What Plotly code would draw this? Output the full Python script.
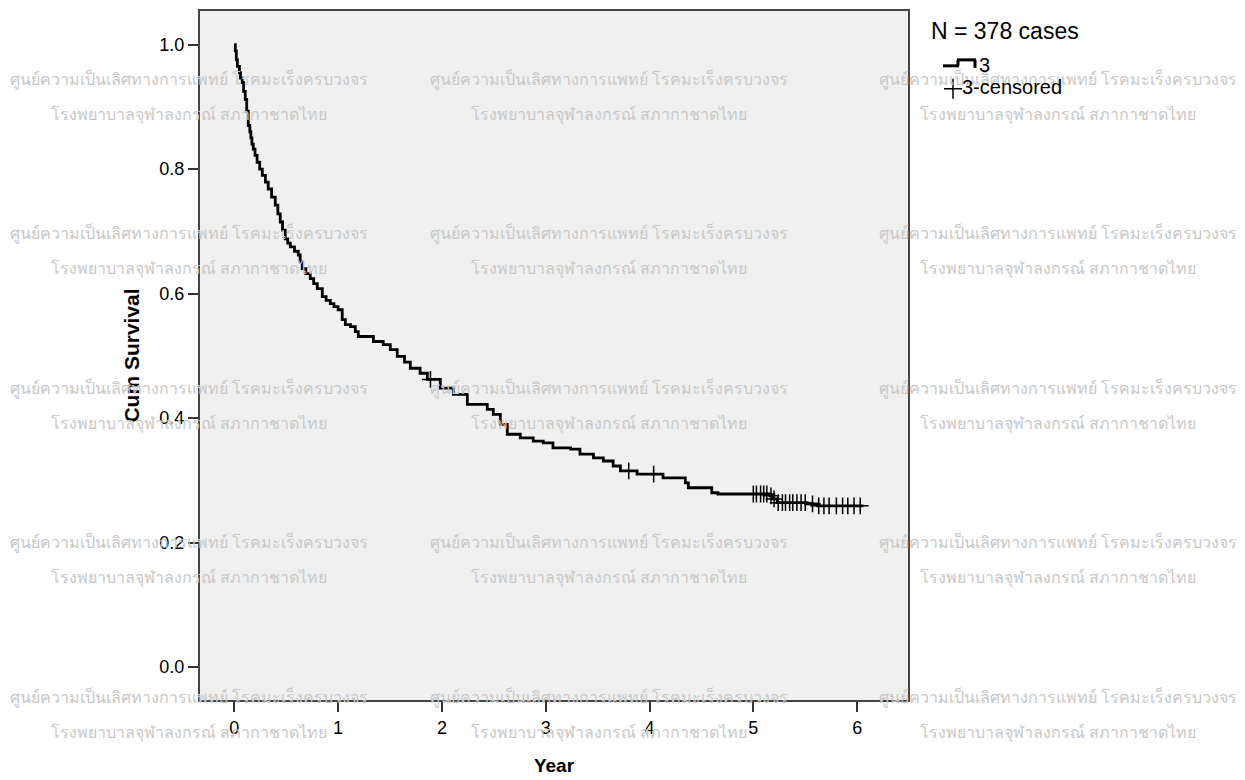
import numpy as np
import plotly.graph_objects as go

# Kaplan-Meier curve (years, cumulative survival)
km_time = [0.00, 0.01, 0.02, 0.03, 0.05, 0.06, 0.077, 0.09, 0.106, 0.12,
           0.135, 0.15, 0.16, 0.17, 0.183, 0.20, 0.22, 0.245, 0.27, 0.30,
           0.327, 0.36, 0.395, 0.42, 0.443, 0.465, 0.491, 0.515, 0.54, 0.58,
           0.617, 0.635, 0.655, 0.69, 0.732, 0.765, 0.80, 0.848, 0.885, 0.925,
           0.96, 1.00, 1.04, 1.07, 1.12, 1.166, 1.195, 1.34, 1.435, 1.503,
           1.57, 1.64, 1.696, 1.79, 1.86, 1.985, 2.11, 2.245, 2.437, 2.495,
           2.563, 2.63, 2.755, 2.88, 2.977, 3.07, 3.24, 3.33, 3.46, 3.555,
           3.65, 3.72, 3.88, 4.13, 4.345, 4.374, 4.60, 4.66, 5.16, 5.19,
           5.23, 5.52, 5.62, 6.06]
km_surv = [1.000, 0.990, 0.976, 0.965, 0.955, 0.946, 0.939, 0.925, 0.912, 0.893,
           0.870, 0.860, 0.850, 0.840, 0.832, 0.822, 0.811, 0.800, 0.790, 0.779,
           0.768, 0.755, 0.742, 0.728, 0.715, 0.702, 0.688, 0.681, 0.675, 0.668,
           0.662, 0.651, 0.640, 0.632, 0.624, 0.616, 0.608, 0.595, 0.589, 0.584,
           0.579, 0.574, 0.558, 0.550, 0.547, 0.539, 0.531, 0.523, 0.518, 0.510,
           0.499, 0.490, 0.480, 0.472, 0.462, 0.448, 0.438, 0.422, 0.414, 0.406,
           0.390, 0.374, 0.368, 0.363, 0.360, 0.352, 0.350, 0.342, 0.336, 0.331,
           0.323, 0.315, 0.310, 0.304, 0.296, 0.288, 0.280, 0.278, 0.275, 0.270,
           0.264, 0.262, 0.259, 0.259]

# censored observations (years)
cens_time = [1.89, 3.80, 4.04, 5.00, 5.03, 5.07, 5.10, 5.13, 5.17, 5.20,
             5.24, 5.28, 5.31, 5.35, 5.38, 5.42, 5.46, 5.50, 5.57, 5.63,
             5.68, 5.73, 5.80, 5.86, 5.91, 5.97, 6.03]

x_ticks = [0, 1, 2, 3, 4, 5, 6]
y_ticks = [0.0, 0.2, 0.4, 0.6, 0.8, 1.0]

n_cases = 378
legend_names = ["3", "3-censored"]
wm_line1 = "ศูนย์ความเป็นเลิศทางการแพทย์ โรคมะเร็งครบวงจร"
wm_line2 = "โรงพยาบาลจุฬาลงกรณ์ สภากาชาดไทย"

# survival value at each censored time (step lookup on the curve)
idx = np.searchsorted(km_time, cens_time, side="right") - 1
cens_surv = [km_surv[i] for i in idx]

fig = go.Figure()
fig.add_trace(go.Scatter(
    x=km_time, y=km_surv, mode="lines", name=legend_names[0], showlegend=False,
    line=dict(color="black", width=2.8, shape="hv"),
))
fig.add_trace(go.Scatter(
    x=cens_time, y=cens_surv, mode="markers", name=legend_names[1], showlegend=False,
    marker=dict(symbol="cross-thin", size=12, line=dict(color="black", width=1.5)),
))

# plot area on the page (pixels): left 200, right 908, top 9, bottom 700
def px(xp, yp):
    return (xp - 200) / 708, (700 - yp) / 691

annots = []
for cx in [189, 609, 1058]:
    for ry in [77, 232, 387, 542, 697]:
        for txt, dy in [(wm_line1, 0), (wm_line2, 35)]:
            ax, ay = px(cx, ry + dy)
            annots.append(dict(x=ax, y=ay, xref="paper", yref="paper", text=txt,
                               showarrow=False, xanchor="center", yanchor="middle",
                               font=dict(family="Noto Sans, DejaVu Sans, sans-serif",
                                         size=16, color="#c8c8c8")))

def label(text, xp, yp, size):
    ax, ay = px(xp, yp)
    annots.append(dict(x=ax, y=ay, xref="paper", yref="paper", text=text,
                       showarrow=False, xanchor="left", yanchor="middle",
                       font=dict(family="Liberation Sans, Arial", size=size, color="black")))

label(f"N = {n_cases} cases", 929, 29, 23)
label(legend_names[0], 977, 63, 20)
label(legend_names[1], 960, 85, 20)

# legend glyphs: step line and censor cross
def seg(x0, y0, x1, y1, w):
    a0, b0 = px(x0, y0)
    a1, b1 = px(x1, y1)
    return dict(type="line", xref="paper", yref="paper", x0=a0, y0=b0, x1=a1, y1=b1,
                line=dict(color="black", width=w))

shapes = [
    seg(943, 64, 959, 64, 3), seg(958, 64, 958, 58, 3), seg(957, 58, 976, 58, 3),
    seg(975, 58, 975, 66, 3),
    seg(944, 87, 962, 87, 1.5), seg(953, 77, 953, 97, 1.5),
]

fig.update_layout(
    width=1237, height=772,
    margin=dict(l=192, r=337, t=1, b=80),
    paper_bgcolor="white", plot_bgcolor="#f0f0f0",
    font=dict(family="Liberation Sans, Arial", size=18, color="black"),
    showlegend=False,
    annotations=annots,
    shapes=shapes,
)
fig.update_xaxes(
    range=[-0.33, 6.49], tickvals=x_ticks, ticks="outside", ticklen=10, tickwidth=2,
    tickcolor="#333", showgrid=False, zeroline=False, showline=True, linecolor="#444",
    linewidth=2, mirror=True,
    title=dict(text="<b>Year</b>", font=dict(size=19), standoff=22),
)
fig.update_yaxes(
    range=[-0.053, 1.054], tickvals=y_ticks, tickformat=".1f", ticks="outside",
    ticklen=10, tickwidth=2, tickcolor="#333", showgrid=False, zeroline=False,
    showline=True, linecolor="#444", linewidth=2, mirror=True,
    title=dict(text="<b>Cum Survival</b>", font=dict(size=21), standoff=14),
)

fig.write_html("out.html")
